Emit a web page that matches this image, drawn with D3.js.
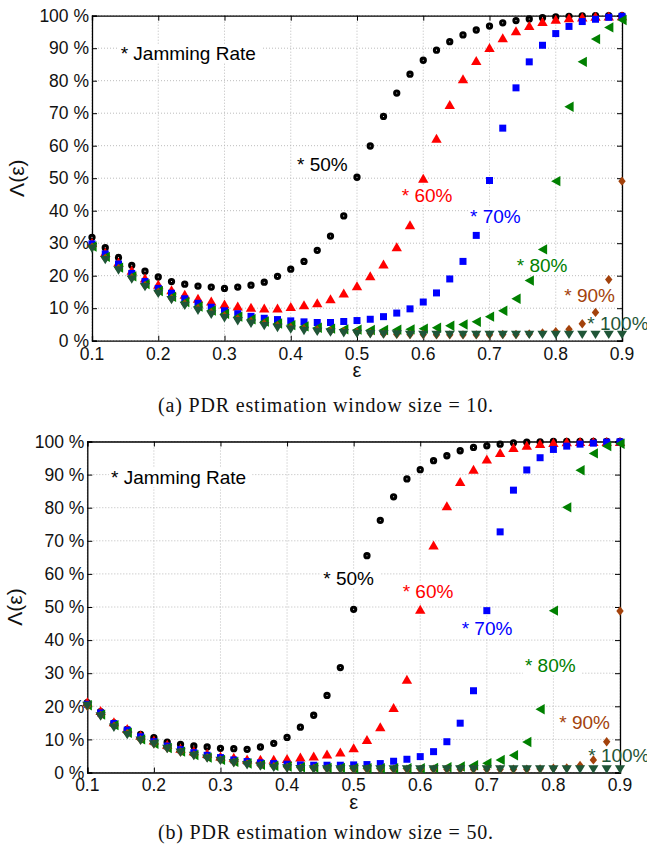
<!DOCTYPE html>
<html><head><meta charset="utf-8">
<script src="https://cdn.jsdelivr.net/npm/d3@7"></script>
<style>body{margin:0;background:#fff} svg{display:block}</style>
</head><body>
<script>
// ---------- data ----------
const epsilon = [0.10,0.12,0.14,0.16,0.18,0.20,0.22,0.24,0.26,0.28,
                 0.30,0.32,0.34,0.36,0.38,0.40,0.42,0.44,0.46,0.48,
                 0.50,0.52,0.54,0.56,0.58,0.60,0.62,0.64,0.66,0.68,
                 0.70,0.72,0.74,0.76,0.78,0.80,0.82,0.84,0.86,0.88,0.90];
const xTicks = [0.1,0.2,0.3,0.4,0.5,0.6,0.7,0.8,0.9];
const xTickLabels = ["0.1","0.2","0.3","0.4","0.5","0.6","0.7","0.8","0.9"];
const yTicks = [0,10,20,30,40,50,60,70,80,90,100];
const yTickLabels = ["0 %","10 %","20 %","30 %","40 %","50 %","60 %","70 %","80 %","90 %","100 %"];
const jamRates = ["50%","60%","70%","80%","90%","100%"];

// (a) window size = 10
const rateA50 = [31.8,28.6,25.6,23.2,21.4,19.6,18.2,17.4,16.8,16.5,
 16.1,16.5,17.1,18.0,19.8,22.0,24.4,27.8,32.2,38.4,
 50.3,59.9,69.0,76.2,82.0,86.3,89.4,92.0,94.1,95.6,
 96.8,97.8,98.5,99.0,99.4,99.6,99.8,99.9,100,100,100];
const rateA60 = [30.2,27.2,24.2,21.7,19.3,17.4,15.7,14.3,13.1,12.2,
 11.3,10.7,10.3,10.1,10.1,10.5,11.1,11.7,12.9,14.7,
 16.9,20.0,23.6,28.9,35.7,50.0,62.3,72.7,80.6,86.2,
 90.2,93.2,95.4,97.0,98.2,98.9,99.4,99.6,99.8,99.9,100];
const rateA70 = [29.8,26.7,23.6,20.7,18.2,16.1,14.6,12.9,11.5,10.3,
 9.2,8.3,7.5,6.9,6.5,6.1,5.8,5.6,5.6,5.9,
 6.2,6.6,7.4,8.5,9.8,11.9,14.7,19.0,24.4,32.4,
 49.3,65.4,77.8,85.8,90.9,94.5,96.7,98.2,98.9,99.5,99.8];
const rateA80 = [29.0,25.8,22.5,19.8,17.4,15.3,13.5,11.9,10.5,9.3,
 8.3,7.4,6.6,5.9,5.3,4.8,4.4,4.0,3.7,3.5,
 3.4,3.3,3.3,3.4,3.5,3.7,4.0,4.6,5.0,5.8,
 7.4,9.2,12.9,18.5,28.1,49.1,72.0,85.8,92.8,96.4,98.7];
const rateA90 = [28.8,25.4,22.2,19.4,17.0,14.9,13.0,11.3,9.9,8.6,
 7.6,6.7,5.9,5.2,4.6,4.1,3.7,3.3,3.0,2.8,
 2.6,2.3,2.1,2.0,1.9,1.9,1.8,1.8,1.8,1.8,
 1.8,1.9,1.9,2.1,2.4,2.8,3.5,5.2,8.7,18.8,49.1];
const rateA100 = [28.3,24.8,21.6,18.8,16.5,14.4,12.5,10.7,9.2,8.0,
 6.9,6.0,5.2,4.5,3.9,3.4,3.0,2.7,2.5,2.3,
 2.1,2.0,1.9,1.9,1.8,1.8,1.8,1.8,1.8,1.8,
 1.8,1.8,1.8,1.8,1.8,1.8,1.8,1.8,1.8,1.8,1.8];

// (b) window size = 50
const rateB50 = [21.1,18.4,15.0,13.0,11.5,10.5,9.2,8.5,8.0,7.7,
 7.3,7.2,7.0,7.7,8.8,10.6,13.7,17.3,23.3,31.7,
 49.3,65.5,76.2,83.3,88.7,91.5,94.2,95.7,97.2,98.2,
 98.7,99.2,99.6,99.8,99.9,100,100,100,100,100,100];
const rateB60 = [21.4,18.7,15.3,13.3,11.3,9.8,8.5,7.3,6.6,5.8,
 5.0,4.6,4.1,4.0,4.0,4.2,4.7,5.0,5.6,6.2,
 7.5,10.0,13.8,19.6,28.2,49.3,68.7,80.6,87.9,91.6,
 94.7,96.7,98.2,98.9,99.4,99.7,99.9,100,100,100,100];
const rateB70 = [20.6,18.0,14.8,12.8,10.8,9.3,8.0,6.9,6.0,5.2,
 4.5,3.8,3.3,2.9,2.7,2.5,2.3,2.2,2.2,2.2,
 2.3,2.4,2.7,3.4,4.0,4.8,6.3,9.3,14.9,24.7,
 48.9,72.7,85.3,91.4,95.1,97.6,98.6,99.2,99.5,99.8,99.9];
const rateB80 = [20.3,17.5,14.3,12.0,10.0,8.7,7.4,6.3,5.3,4.5,
 3.8,3.2,2.7,2.3,2.0,1.8,1.6,1.5,1.4,1.4,
 1.3,1.3,1.3,1.3,1.3,1.3,1.4,1.6,1.8,2.2,
 2.8,3.8,5.2,9.2,19.1,48.9,80.1,91.3,96.4,98.6,99.3];
const rateB90 = [20.0,17.2,14.0,11.8,9.9,8.7,7.3,6.2,5.3,4.5,
 3.8,3.1,2.6,2.1,1.8,1.5,1.3,1.2,1.1,1.1,
 1.0,1.0,1.0,1.0,1.0,1.0,1.0,1.0,1.0,1.0,
 1.0,1.0,1.0,1.0,1.1,1.3,1.4,2.1,3.8,9.3,48.8];
const rateB100 = [20.1,16.9,13.5,11.3,9.6,8.5,7.1,6.0,5.0,4.2,
 3.5,2.8,2.2,1.8,1.4,1.2,1.0,0.9,0.9,0.9,
 0.9,0.9,0.9,0.9,0.9,0.9,0.9,0.9,0.9,0.9,
 0.9,0.9,0.9,0.9,0.9,0.9,0.9,0.9,0.9,0.9,0.9];

// label anchors in data units [epsilon, percent]
const labelAnchorsA = [[0.4094,52.3],[0.5675,42.8],[0.6706,36.1],[0.7411,21.2],[0.8129,12.0],[0.8476,3.3]];
const labelAnchorsB = [[0.4544,56.6],[0.5736,52.6],[0.6622,41.5],[0.7572,30.3],[0.8087,13.1],[0.8523,3.3]];
const titleAnchorA = [0.1433,86.4];
const titleAnchorB = [0.1356,87.2];

// ---------- styles ----------
const colors = ["#000000","#ff0000","#0000ff","#008000","#a3420c","#1f5537"];
const shapes = ["circle","up","square","left","diamond","down"];

const W = 647, H = 848;
const svg = d3.select("body").append("svg").attr("width",W).attr("height",H)
  .style("background","#fff");

function markerPath(shape){
  switch(shape){
    case "up":     return "M0,-4.5L5.2,4.5L-5.2,4.5Z";
    case "down":   return "M0,4.2L5.1,-4.2L-5.1,-4.2Z";
    case "left":   return "M-4.6,0L4.6,-5.2L4.6,5.2Z";
    case "square": return "M-3.5,-3.5H3.5V3.5H-3.5Z";
    case "diamond":return "M0,-4.7L3.7,0L0,4.7L-3.7,0Z";
  }
}

function drawPanel(cfg){
  const x = d3.scaleLinear().domain([0.1,0.9]).range([cfg.left,cfg.right]);
  const y = d3.scaleLinear().domain([0,100]).range([cfg.bottom,cfg.top]);
  const g = svg.append("g");
  const fontSans = "'Liberation Sans', Arial, Helvetica, sans-serif";

  // grid
  const grid = g.append("g").attr("stroke","#b4b4b4").attr("stroke-width",0.9)
     .attr("stroke-dasharray","1,2");
  xTicks.forEach(t=>grid.append("line").attr("x1",x(t)).attr("x2",x(t))
     .attr("y1",cfg.top).attr("y2",cfg.bottom));
  yTicks.forEach(t=>grid.append("line").attr("x1",cfg.left).attr("x2",cfg.right)
     .attr("y1",y(t)).attr("y2",y(t)));

  // annotations
  const labels = [];
  labels.push({e:cfg.title[0], v:cfg.title[1], text:"* Jamming Rate", color:"#000"});
  cfg.anchors.forEach((a,i)=>labels.push({e:a[0], v:a[1], text:"* "+jamRates[i], color:colors[i]}));
  const labelG = g.append("g");
  const textNodes = labels.map(l=>{
    return labelG.append("text").attr("x",x(l.e)).attr("y",y(l.v))
      .attr("font-family",fontSans).attr("font-size",19)
      .attr("fill",l.color).text(l.text);
  });

  // axes with inward ticks on all 4 sides
  const axG = g.append("g");
  const tl = 5;
  const axB = d3.axisBottom(x).tickValues(xTicks).tickSize(-tl).tickFormat("");
  const axT = d3.axisTop(x).tickValues(xTicks).tickSize(-tl).tickFormat("");
  const axL = d3.axisLeft(y).tickValues(yTicks).tickSize(-tl).tickFormat("");
  const axR = d3.axisRight(y).tickValues(yTicks).tickSize(-tl).tickFormat("");
  [[axB,`translate(0,${cfg.bottom})`],[axT,`translate(0,${cfg.top})`],
   [axL,`translate(${cfg.left},0)`],[axR,`translate(${cfg.right},0)`]].forEach(([a,t])=>{
    const s = axG.append("g").attr("transform",t).call(a);
    s.select(".domain").attr("stroke","#000").attr("stroke-width",1.3);
    s.selectAll(".tick line").attr("stroke","#000").attr("stroke-width",1);
  });

  // tick labels
  xTicks.forEach((t,i)=>g.append("text").attr("x",x(t)).attr("y",cfg.bottom+18.8)
     .attr("text-anchor","middle").attr("font-family",fontSans).attr("font-size",17.5)
     .attr("fill","#111").text(xTickLabels[i]));
  yTicks.forEach((t,i)=>g.append("text").attr("x",cfg.left-3).attr("y",y(t)+6.2)
     .attr("text-anchor","end").attr("font-family",fontSans).attr("font-size",17.5)
     .attr("fill","#111").text(yTickLabels[i]));

  // axis titles
  g.append("text").attr("x",(cfg.left+cfg.right)/2).attr("y",cfg.bottom+36.5)
    .attr("text-anchor","middle").attr("font-family",fontSans).attr("font-size",20)
    .attr("fill","#111").text("ε");
  g.append("text").attr("transform",`translate(${cfg.ylabX},${(cfg.top+cfg.bottom)/2}) rotate(-90)`)
    .attr("text-anchor","middle").attr("font-family",fontSans).attr("font-size",21)
    .attr("fill","#111").text("Λ(ε)");

  // markers
  const mG = g.append("g");
  cfg.series.forEach((vals,si)=>{
    const sg = mG.append("g");
    const pts = epsilon.map((e,i)=>[e,vals[i]]);
    if(shapes[si]==="circle"){
      sg.selectAll("circle").data(pts).join("circle")
        .attr("cx",d=>x(d[0])).attr("cy",d=>y(d[1])).attr("r",2.1)
        .attr("fill","#fff").attr("stroke",colors[si]).attr("stroke-width",3.1);
    } else {
      sg.selectAll("path").data(pts).join("path")
        .attr("transform",d=>`translate(${x(d[0])},${y(d[1])})`)
        .attr("d",markerPath(shapes[si])).attr("fill",colors[si]);
    }
  });

  // white backgrounds behind annotations (grid interrupted, markers kept)
  textNodes.forEach(t=>{
    const bb = t.node().getBBox();
    labelG.insert("rect","text").attr("x",bb.x-2).attr("y",bb.y+1)
      .attr("width",bb.width+8).attr("height",bb.height-2).attr("fill","#fff");
  });
  textNodes.forEach(t=>g.node().appendChild(t.node()));

  // caption
  g.append("text").attr("x",158).attr("y",cfg.captionY)
    .attr("font-family","'Liberation Serif','Times New Roman',serif").attr("font-size",20)
    .attr("textLength",335).attr("lengthAdjust","spacing")
    .attr("fill","#111").text(cfg.caption);
}

drawPanel({left:92, right:622, top:15.7, bottom:340.7, ylabX:24,
  series:[rateA50,rateA60,rateA70,rateA80,rateA90,rateA100],
  anchors:labelAnchorsA, title:titleAnchorA,
  caption:"(a) PDR estimation window size = 10.", captionY:412});
drawPanel({left:87.3, right:620, top:441.5, bottom:772.5, ylabX:22,
  series:[rateB50,rateB60,rateB70,rateB80,rateB90,rateB100],
  anchors:labelAnchorsB, title:titleAnchorB,
  caption:"(b) PDR estimation window size = 50.", captionY:839});
</script>
</body></html>
